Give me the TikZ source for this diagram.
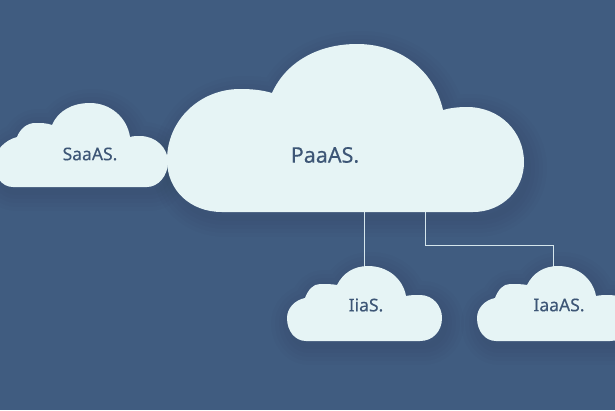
\documentclass[tikz,border=0pt]{standalone}
\usepackage{fontspec}
\setmainfont[FakeBold=0.25,AutoFakeBold=0.25]{Noto Sans}
\definecolor{bgblue}{HTML}{405C80}
\definecolor{cloudfill}{HTML}{E6F4F5}
\definecolor{inktext}{HTML}{3D5676}
\definecolor{wire}{HTML}{D5E6EC}
\tikzset{
  cloudbody/.style={fill=cloudfill,draw=none},
  cloudshade/.style={draw=black,opacity=0.01,fill=none,line join=round},
  wirelink/.style={draw=wire,line width=1pt},
  bigtext/.style={text=inktext,font=\fontsize{21.5}{24}\selectfont,inner sep=0pt},
  smalltext/.style={text=inktext,font=\fontsize{17.5}{20}\selectfont,inner sep=0pt},
}
% small cloud outline, local origin at its top-centre point
\newcommand{\smallcloudpath}{
  (-62,75) .. controls (-73,75) and (-81,65) .. (-81,52)
  .. controls (-81,42) and (-73,34) .. (-63,32)
  .. controls (-60,24) and (-55,18) .. (-48,18)
  .. controls (-42,18) and (-36,18) .. (-31,19)
  .. controls (-25,7) and (-14,0) .. (0,0)
  .. controls (20,0) and (35,13) .. (38,30)
  .. controls (42,29) and (47,29) .. (52,29)
  .. controls (65,29) and (74,40) .. (74,52)
  .. controls (74,65) and (65,75) .. (52,75) -- cycle}
\newcommand{\saascloudpath}{
  (13,187) .. controls (1,187) and (-6,175) .. (-6,163)
  .. controls (-6,151) and (5,140) .. (17,137)
  .. controls (20,129) and (27,123) .. (35,123)
  .. controls (41,123) and (47,123) .. (52,125)
  .. controls (58,111) and (72,103) .. (90,103)
  .. controls (110,103) and (127,117) .. (130,137)
  .. controls (133,136) and (137,136) .. (140,136)
  .. controls (156,136) and (168,148) .. (168,162)
  .. controls (168,176) and (158,187) .. (147,187) -- cycle}
\newcommand{\bigcloudpath}{
  (222,212) .. controls (190,212) and (167,190) .. (167,160)
  .. controls (167,120) and (200,89) .. (240,89)
  .. controls (252,89) and (262,90) .. (272,93)
  .. controls (286,62) and (318,44) .. (357,44)
  .. controls (400,44) and (434,70) .. (443,110)
  .. controls (450,108) and (458,107) .. (467,107)
  .. controls (500,107) and (524,132) .. (524,162)
  .. controls (524,190) and (502,212) .. (473,212) -- cycle}
\begin{document}
\begin{tikzpicture}[x=1pt,y=-1pt]
\useasboundingbox (0,0) rectangle (615,410);
\fill[bgblue] (0,0) rectangle (615,410);
% soft shadows
\foreach \d in {6,14,22,30,38}{
  \draw[cloudshade,line width=\d pt,shift={(4,6)}] \bigcloudpath;
  \draw[cloudshade,line width=\d pt,shift={(3,5)}] \saascloudpath;
  \draw[cloudshade,line width=\d pt,shift={(371,271)}] \smallcloudpath;
  \draw[cloudshade,line width=\d pt,shift={(561,271)}] \smallcloudpath;
}
% connector anchors
\coordinate (paasA) at (364,205);
\coordinate (paasB) at (425,205);
\coordinate (iasTop) at (364,272);
\coordinate (iaasTop) at (553,272);
\coordinate (elbowA) at (425,245);
\coordinate (elbowB) at (553,245);
\draw[wirelink] (paasA) -- (iasTop);
\draw[wirelink] (paasB) -- (elbowA) -- (elbowB) -- (iaasTop);
% clouds
\fill[cloudbody] \saascloudpath;
\fill[cloudbody] \bigcloudpath;
\fill[cloudbody,shift={(368,266)}] \smallcloudpath;
\fill[cloudbody,shift={(558,266)}] \smallcloudpath;
% labels
\node[smalltext] (saas) at (90,154) {SaaAS.};
\node[bigtext] (paas) at (325,155) {PaaAS.};
\node[smalltext] (ias) at (366,305) {IiaS.};
\node[smalltext] (iaas) at (559,305) {IaaAS.};
\end{tikzpicture}
\end{document}
